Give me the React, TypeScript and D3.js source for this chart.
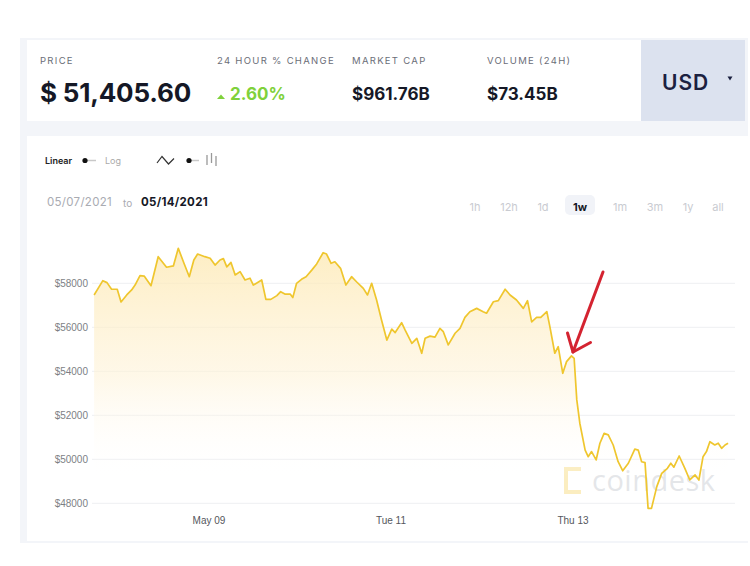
import React from "react";
import * as d3 from "d3";

// ---- data (hours since 2021-05-07 00:00, BTC price in USD) ----
const hours = [
  17.7, 20.0, 21.1, 22.3, 23.8, 24.8, 26.3, 27.6, 28.5, 29.8, 30.9, 32.7, 34.6, 36.8, 38.6, 39.9,
  41.4, 42.8, 44.0, 45.0, 46.9, 48.3, 49.6, 50.9, 51.8, 52.7, 53.8, 54.9, 56.2, 57.5, 58.8, 59.7,
  61.9, 63.0, 64.3, 65.9, 66.9, 68.0, 69.4, 70.1, 71.1, 72.4, 73.6, 75.1, 76.4, 78.1, 79.0, 80.2,
  81.2, 82.7, 84.1, 85.6, 86.9, 88.7, 89.8, 90.9, 92.2, 93.5, 94.9, 96.2, 97.1, 98.8, 99.7, 101.5,
  102.8, 104.1, 105.0, 106.3, 107.6, 108.9, 109.8, 111.1, 112.9, 114.2, 115.5, 116.8, 118.6, 120.3,
  121.2, 123.0, 124.3, 126.1, 127.4, 129.1, 130.9, 132.0, 133.1, 134.4, 135.5, 137.1, 137.9, 139.2,
  140.1, 141.3, 142.3, 143.6, 144.3, 145.0, 145.8, 147.2, 148.0, 148.9, 150.1, 151.1, 152.2, 153.3,
  154.6, 155.9, 157.1, 158.6, 160.3, 161.2, 162.1, 163.0, 163.8, 164.7, 166.1, 167.4, 168.9, 169.8,
  170.6, 172.0, 173.5, 174.8, 176.2, 177.2, 178.3, 179.2, 180.1, 181.4, 182.3, 183.2, 184.1, 184.9,
];
const prices = [
  57470, 58120, 58030, 57730, 57730, 57150, 57470, 57700, 57920, 58350, 58330, 57890, 59210, 58730, 58790, 59590,
  58910, 58300, 59060, 59330, 59210, 59140, 58830, 59060, 59120, 58750, 58950, 58380, 58530, 58150, 58230, 57920,
  58150, 57270, 57270, 57440, 57620, 57510, 57510, 57350, 58000, 58180, 58300, 58600, 58880, 59390, 59330, 58910,
  58980, 58680, 57920, 58300, 58070, 57770, 57470, 58000, 57240, 56330, 55420, 55920, 55760, 56210, 55880, 55270,
  55500, 54820, 55500, 55600, 55550, 55950, 55800, 55200, 55730, 55950, 56450, 56710, 56860, 56710,
  56640, 57160, 57210, 57730, 57470, 57240, 56860, 57210, 56250, 56450, 56450, 56710, 56030, 54820,
  55120, 53910, 54440, 54700, 54590, 52700, 51640, 50420, 50120, 50350, 49970, 50730, 51180, 51110,
  50650, 49890, 49480, 49820, 50460, 50420, 49890, 49850, 47770, 47770, 48760, 49360, 49590, 49820,
  49640, 50150, 49590, 49060, 49290, 49060, 50120, 50350, 50800, 50650, 50730, 50500, 50650, 50730,
];
const yTicks = [48000, 50000, 52000, 54000, 56000, 58000];
const xTickDays = [9, 11, 13];
const xTickLabels = ["May 09", "Tue 11", "Thu 13"];
const statLabels = ["PRICE", "24 HOUR % CHANGE", "MARKET CAP", "VOLUME (24H)"];
const statValues = ["$ 51,405.60", "2.60%", "$961.76B", "$73.45B"];
const rangeButtons = ["1h", "12h", "1d", "1w", "1m", "3m", "1y", "all"];

const START = new Date(2021, 4, 7);
const data = hours.map((h, i) => ({ t: new Date(START.getTime() + h * 3600 * 1000), v: prices[i] }));

export default function App() {
  const x = d3.scaleTime().domain([new Date(2021, 4, 7), new Date(2021, 4, 15)]).range([27, 755]);
  const y = d3.scaleLinear().domain([48000, 58000]).range([503.3, 283.3]);
  const line = d3.line<any>().x((d) => x(d.t)).y((d) => y(d.v));
  const area = d3.area<any>().x((d) => x(d.t)).y0(y(48000)).y1((d) => y(d.v));

  const sans = "Inter, 'Open Sans', sans-serif";
  const arial = "'Liberation Sans', Arial, sans-serif";
  const statX = [40, 217, 352, 487];
  const btnX = [475, 509, 543, 580, 620, 655, 688, 718];

  return (
    <svg width={750} height={566} style={{ position: "absolute", left: 0, top: 0, display: "block" }}>
      <defs>
        <linearGradient id="fillGrad" gradientUnits="userSpaceOnUse" x1="0" y1="250" x2="0" y2="480">
          <stop offset="0" stopColor="#fde8b0" stopOpacity={0.75} />
          <stop offset="0.55" stopColor="#fef2d6" stopOpacity={0.55} />
          <stop offset="1" stopColor="#ffffff" stopOpacity={0} />
        </linearGradient>
      </defs>
      <rect x={0} y={0} width={750} height={566} fill="#ffffff" />
      {/* panel backgrounds */}
      <rect x={20} y={38} width={728} height={505} fill="#f3f5f9" />
      <rect x={27} y={40} width={614} height={81} fill="#ffffff" />
      <rect x={641} y={40} width={104} height={81} fill="#dce2ef" />
      <rect x={27} y={136} width={721} height={405} fill="#ffffff" />

      {/* stats */}
      {statLabels.map((s, i) => (
        <text key={s} x={statX[i]} y={64} fontFamily={sans} fontSize={9.5} letterSpacing={1.3} fill="#6b6e78">
          {s}
        </text>
      ))}
      <text x={40} y={102} fontFamily={sans} fontSize={26} fontWeight={700} fill="#151826" letterSpacing={-0.2}>
        {statValues[0]}
      </text>
      <path d="M217,99 L221,94.5 L225,99 Z" fill="#7fd13b" />
      <text x={230} y={100} fontFamily={sans} fontSize={17} fontWeight={700} fill="#7fd13b">
        {statValues[1]}
      </text>
      <text x={352} y={100} fontFamily={sans} fontSize={17} fontWeight={700} fill="#151826">
        {statValues[2]}
      </text>
      <text x={487} y={100} fontFamily={sans} fontSize={17} fontWeight={700} fill="#151826">
        {statValues[3]}
      </text>
      <text x={662} y={90} fontFamily={sans} fontSize={21} fontWeight={600} fill="#1b2040" letterSpacing={1}>
        USD
      </text>
      <path d="M727.5,76.5 L732.5,76.5 L730,80.5 Z" fill="#1b2040" />

      {/* toggles */}
      <text x={45} y={164} fontFamily={sans} fontSize={9} fontWeight={600} fill="#222">Linear</text>
      <line x1={87} y1={160.5} x2={96} y2={160.5} stroke="#c8c8c8" strokeWidth={1.5} />
      <circle cx={85} cy={160.5} r={2.6} fill="#111" />
      <text x={105} y={164} fontFamily={sans} fontSize={9} fill="#aaa">Log</text>
      <path d="M157,163 L162,156.5 L168.5,164 L174,158.5" fill="none" stroke="#333" strokeWidth={1.2} />
      <line x1={191} y1={160.5} x2={199} y2={160.5} stroke="#c8c8c8" strokeWidth={1.5} />
      <circle cx={189} cy={160.5} r={2.6} fill="#111" />
      <line x1={207} y1={155} x2={207} y2={165} stroke="#999" strokeWidth={1.3} />
      <line x1={211.5} y1={153} x2={211.5} y2={163} stroke="#999" strokeWidth={1.3} />
      <line x1={216} y1={156} x2={216} y2={166} stroke="#999" strokeWidth={1.3} />

      {/* date range */}
      <text x={47} y={206} fontFamily={sans} fontSize={11.5} fill="#a9abb2" letterSpacing={0.3}>05/07/2021</text>
      <text x={123} y={207} fontFamily={sans} fontSize={10} fill="#a9abb2">to</text>
      <text x={141} y={206} fontFamily={sans} fontSize={11.5} fontWeight={700} fill="#151826" letterSpacing={0.3}>05/14/2021</text>

      {/* range buttons */}
      <rect x={565} y={195} width={30} height={20} rx={5} fill="#f1f3f8" />
      {rangeButtons.map((b, i) => (
        <text key={b} x={btnX[i]} y={211} textAnchor="middle" fontFamily={sans} fontSize={11}
          fontWeight={b === "1w" ? 700 : 400} fill={b === "1w" ? "#151826" : "#c9cbd1"}>
          {b}
        </text>
      ))}

      {/* grid */}
      {yTicks.map((t) => (
        <g key={t}>
          <line x1={92} x2={735} y1={y(t)} y2={y(t)} stroke="#eeeff2" strokeWidth={1} />
          <text x={88} y={y(t) + 3.5} textAnchor="end" fontFamily={arial} fontSize={10} fill="#7d7f85">
            ${t}
          </text>
        </g>
      ))}
      {xTickDays.map((dd, i) => (
        <text key={dd} x={x(new Date(2021, 4, dd))} y={524} textAnchor="middle" fontFamily={arial} fontSize={10} fill="#55575d">
          {xTickLabels[i]}
        </text>
      ))}

      {/* watermark */}
      <path d="M581,469 L566,469 L566,492 L581,492" fill="none" stroke="#fbedc0" strokeWidth={4} />
      <text x={592} y={491} fontFamily={"'Open Sans', sans-serif"} fontSize={29} fill="#d9dbe0" fillOpacity={0.7} letterSpacing={0.5}>
        coindesk
      </text>

      {/* area + line */}
      <path d={area(data) || ""} fill="url(#fillGrad)" />
      <path d={line(data) || ""} fill="none" stroke="#efc62e" strokeWidth={1.7} strokeLinejoin="round" />

      {/* red arrow */}
      <g stroke="#d42330" strokeWidth={3} strokeLinecap="round" fill="none">
        <line x1={603} y1={272} x2={573} y2={352} />
        <path d="M567.5,333 L573,352 L590.5,342.5" strokeLinejoin="round" />
      </g>
    </svg>
  );
}
